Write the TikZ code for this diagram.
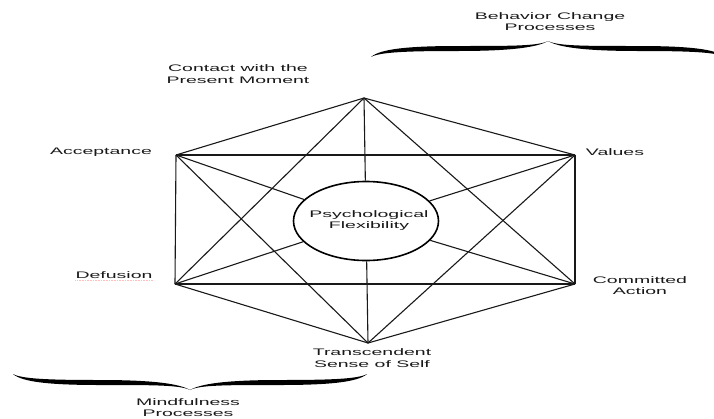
\documentclass[tikz,border=0pt]{standalone}
\usepackage{fontspec}
\setmainfont{Liberation Sans}
\usepackage{graphicx}
\usetikzlibrary{shapes.geometric}

% text in the original is stretched sideways
\newcommand{\widetext}[1]{\scalebox{2.05}[1]{\begin{tabular}{@{}c@{}}#1\end{tabular}}}

\begin{document}
\begin{tikzpicture}[
        x=1pt, y=-1pt,
        edge/.style={line width=1.1pt, black!90},
        hub/.style={draw, ellipse, line width=1.6pt, fill=white, minimum width=145pt, minimum height=79pt, inner sep=0pt},
        lbl/.style={inner sep=0pt, text=black!90, font=\fontsize{9.5}{11.6}\selectfont},
        procbrace/.pic={
            \foreach \s in {1,-1}
                \fill[xscale=\s] (-177,0) .. controls (-168,8) and (-140,11) .. (-90,11)
                    .. controls (-35,11) and (-10,11) .. (0,16)
                    .. controls (-10,10) and (-35,6) .. (-90,6)
                    .. controls (-140,6) and (-168,5) .. (-177,0) -- cycle;
        },
    ]
        \useasboundingbox (0,0) rectangle (714,418);

        % corners of the hexagon
        \coordinate (pm)   at (364,98);
        \coordinate (acc)  at (176,155);
        \coordinate (val)  at (575,155);
        \coordinate (def)  at (175,284);
        \coordinate (act)  at (575,284);
        \coordinate (self) at (368,343);

        \foreach \a/\b in {pm/acc, pm/val, acc/def, val/act, def/self, act/self,
                           acc/val, def/act, pm/def, pm/act, acc/self, val/self}
            \draw[edge] (\a) -- (\b);

        \node[hub] (pf) at (366,221) {};
        \node[lbl] (pftext) at (369,220.8) {\widetext{Psychological\\Flexibility}};

        \foreach \a in {pm, acc, val, def, act, self}
            \draw[edge] (\a) -- (pf);

        \node[lbl] (lpm)   at (238,75)   {\widetext{Contact with the\\Present Moment}};
        \node[lbl, anchor=base] (lacc) at (101,154.5) {\widetext{Acceptance}};
        \node[lbl, anchor=base] (lval) at (615,155)   {\widetext{Values}};
        \node[lbl, anchor=base] (ldef) at (114,278)   {\widetext{Defusion}};
        \node[lbl] (lact)  at (640,286.8) {\widetext{Committed\\Action}};
        \node[lbl] (lself) at (372,359)   {\widetext{Transcendent\\Sense of Self}};
        \draw[red!25, densely dotted, line width=0.6pt] ([yshift=-2.5pt]ldef.base west) -- ([yshift=-2.5pt]ldef.base east);

        % process groups
        \pic[yscale=-1] (bcbrace) at (548,57) {procbrace};
        \node[lbl] (lbc) at (550,22.8) {\widetext{Behavior Change\\Processes}};
        \pic (mfbrace) at (190,374) {procbrace};
        \node[lbl] (lmf) at (188,408.5) {\widetext{Mindfulness\\Processes}};
    \end{tikzpicture}
\end{document}
